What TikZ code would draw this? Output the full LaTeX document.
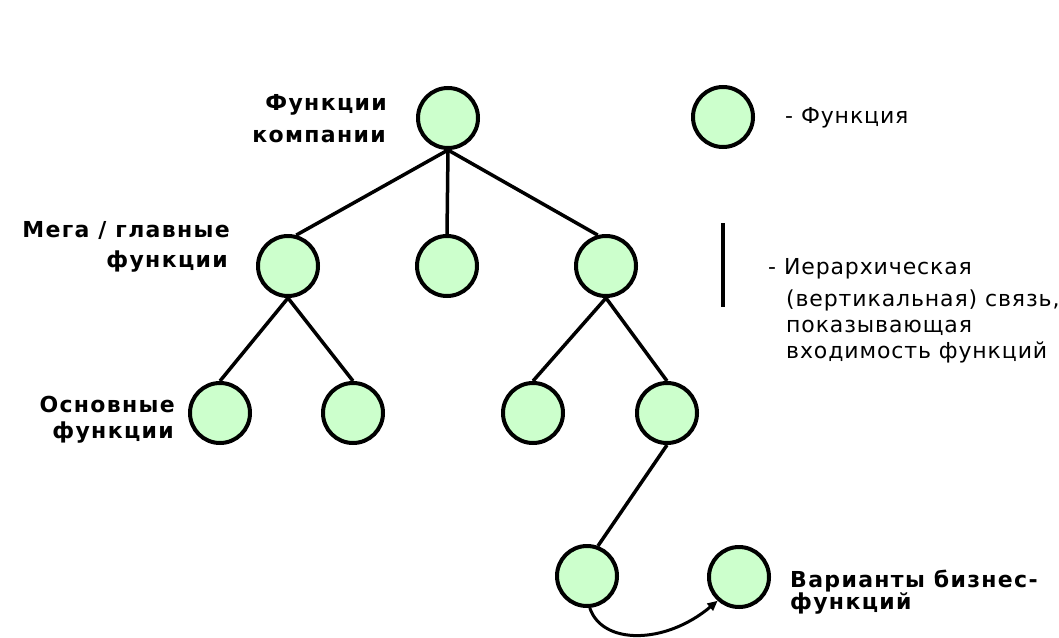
\documentclass[tikz,border=0pt]{standalone}
\usepackage{fontspec}
\usetikzlibrary{arrows.meta}
\setmainfont{DejaVu Sans}
\newfontfamily\headfont[LetterSpace=6]{DejaVu Sans}
\newfontfamily\notefont[LetterSpace=4]{DejaVu Sans}
\definecolor{funcgreen}{RGB}{204,255,204}
\begin{document}
\begin{tikzpicture}[x=1pt,y=-1pt,
  func/.style={circle, draw=black, line width=4pt, fill=funcgreen,
               minimum size=60pt, inner sep=0pt},
  link/.style={line width=3.5pt, draw=black},
  headlbl/.style={font=\headfont\bfseries\fontsize{22}{26}\selectfont, inner sep=0pt},
  notelbl/.style={font=\notefont\fontsize{22}{26}\selectfont, inner sep=0pt}]
\useasboundingbox[fill=white] (0,0) rectangle (1059,637);

% function tree
\node[func] (top) at (448,118) {};
\node[func] (m1) at (288,266) {};
\node[func] (m2) at (447,266) {};
\node[func] (m3) at (606,266) {};
\node[func] (b1) at (220,413) {};
\node[func] (b2) at (353,413) {};
\node[func] (b3) at (533,413) {};
\node[func] (b4) at (667,413) {};
\node[func] (v1) at (587,576) {};
\node[func] (v2) at (739,577) {};

\draw[link] (top.south) -- (m1.75);
\draw[link] (top.south) -- (m2.north);
\draw[link] (top.south) -- (m3.105);
\draw[link] (m1.south) -- (b1.north);
\draw[link] (m1.south) -- (b2.north);
\draw[link] (m3.south) -- (b3.north);
\draw[link] (m3.south) -- (b4.north);
\draw[link] (b4.south) -- (v1.70);
\draw[link, line width=3pt, -{Triangle[length=10pt,width=9pt]}]
  (v1.275) .. controls (602,645) and (665,645) .. (v2.228);

% level captions
\node[headlbl, anchor=base east] (capTopA) at (387,110) {Функции};
\node[headlbl, anchor=base east] (capTopB) at (386,142) {компании};
\node[headlbl, anchor=base east] (capMegaA) at (230,237) {Мега / главные};
\node[headlbl, anchor=base east] (capMegaB) at (228,267) {функции};
\node[headlbl, anchor=base east] (capMainA) at (175,412) {Основные};
\node[headlbl, anchor=base east] (capMainB) at (174,438) {функции};
\node[headlbl, anchor=base west] (capVarA) at (790,587) {Варианты бизнес-};
\node[headlbl, anchor=base west] (capVarB) at (790,609) {функций};

% legend
\node[func] (legFunc) at (723,117) {};
\node[notelbl, anchor=base west] (legFuncTxt) at (785,123) {- Функция};
\coordinate (legTop) at (723,223);
\coordinate (legBot) at (723,307);
\draw[link] (legTop) -- (legBot);
\node[notelbl, anchor=base west] (legLinkA) at (768,274) {- Иерархическая};
\node[notelbl, anchor=base west] (legLinkB) at (786,306) {(вертикальная) связь,};
\node[notelbl, anchor=base west] (legLinkC) at (786,332) {показывающая};
\node[notelbl, anchor=base west] (legLinkD) at (786,358) {входимость функций};
\end{tikzpicture}
\end{document}
